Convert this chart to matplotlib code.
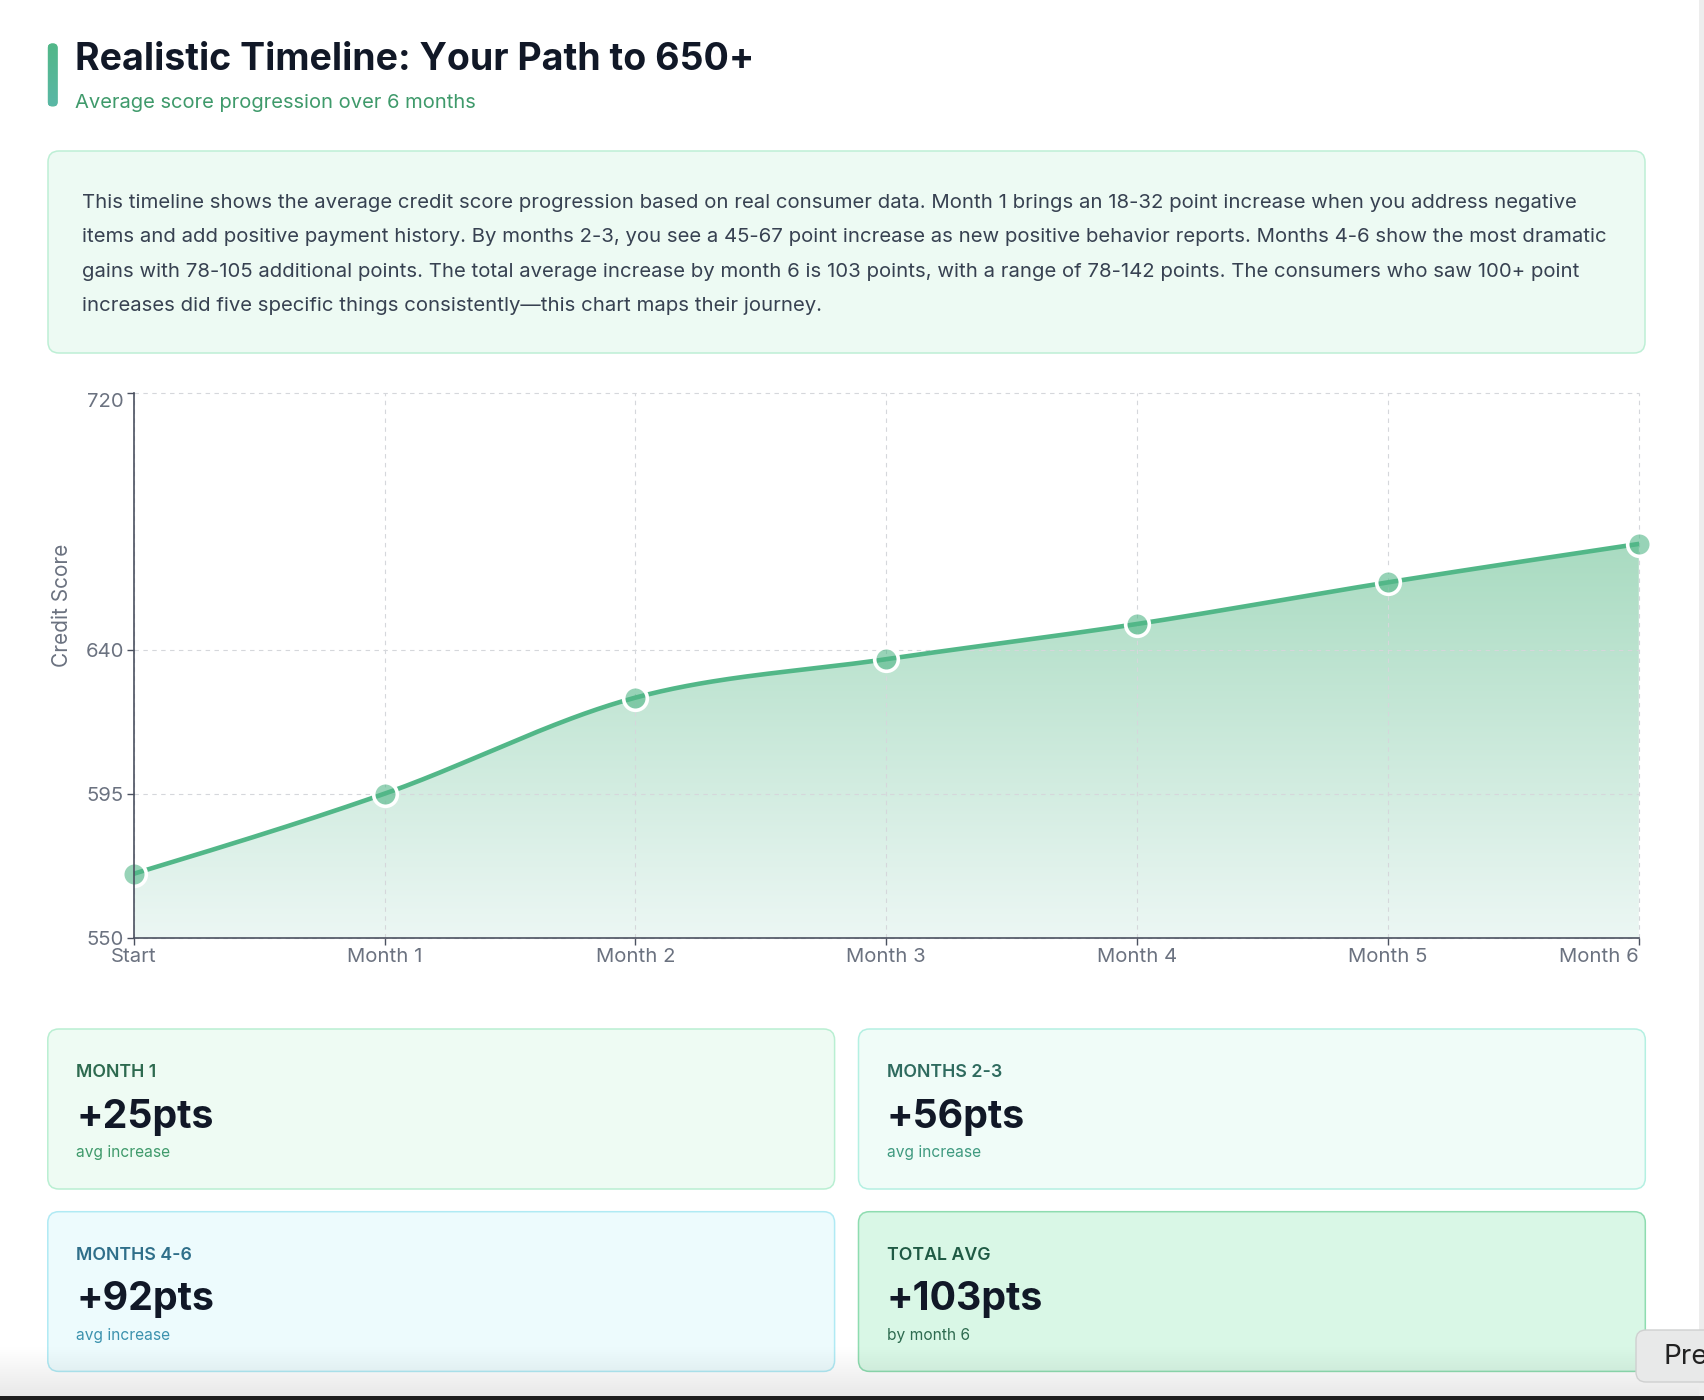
import numpy as np
import matplotlib.pyplot as plt
from matplotlib.patches import FancyBboxPatch, Polygon
from matplotlib.colors import to_rgb

plt.rcParams['font.family'] = ['Inter', 'DejaVu Sans']

# chart data
months = ['Start', 'Month 1', 'Month 2', 'Month 3', 'Month 4', 'Month 5', 'Month 6']
scores = [570, 595, 625, 637, 648, 661, 673]
y_ticks = [550, 595, 640, 720]

# summary cards
card_labels = ['MONTH 1', 'MONTHS 2-3', 'MONTHS 4-6', 'TOTAL AVG']
card_values = ['+25pts', '+56pts', '+92pts', '+103pts']
card_notes = ['avg increase', 'avg increase', 'avg increase', 'by month 6']

summary_lines = [
    "This timeline shows the average credit score progression based on real consumer data. Month 1 brings an 18-32 point increase when you address negative",
    "items and add positive payment history. By months 2-3, you see a 45-67 point increase as new positive behavior reports. Months 4-6 show the most dramatic",
    "gains with 78-105 additional points. The total average increase by month 6 is 103 points, with a range of 78-142 points. The consumers who saw 100+ point",
    "increases did five specific things consistently\u2014this chart maps their journey.",
]

GREEN = '#52b788'
INK = '#111827'
MUTED = '#6b7280'


def monotone(xs, ys, n=60):
    # same idea as d3 curveMonotoneX, evaluated as hermite pieces
    xs = np.asarray(xs, float)
    ys = np.asarray(ys, float)
    h = np.diff(xs)
    s = np.diff(ys) / h
    t = np.zeros(len(xs))
    for i in range(1, len(xs) - 1):
        s0, s1 = s[i - 1], s[i]
        p = (s0 * h[i] + s1 * h[i - 1]) / (h[i - 1] + h[i])
        t[i] = (np.sign(s0) + np.sign(s1)) * min(abs(s0), abs(s1), 0.5 * abs(p))
    t[0] = (3 * s[0] - t[1]) / 2
    t[-1] = (3 * s[-1] - t[-2]) / 2
    out_x, out_y = [], []
    for i in range(len(xs) - 1):
        u = np.linspace(0, 1, n)
        h00 = 2 * u**3 - 3 * u**2 + 1
        h10 = u**3 - 2 * u**2 + u
        h01 = -2 * u**3 + 3 * u**2
        h11 = u**3 - u**2
        out_x.append(xs[i] + u * h[i])
        out_y.append(h00 * ys[i] + h10 * h[i] * t[i] + h01 * ys[i + 1] + h11 * h[i] * t[i + 1])
    return np.concatenate(out_x), np.concatenate(out_y)


def vgrad(ax, x0, x1, ytop, ybot, c_top, c_bot, clip=None, z=1, a_top=1, a_bot=1):
    a = np.linspace(0, 1, 256)[:, None, None]
    ct = np.array(list(to_rgb(c_top)) + [a_top])
    cb = np.array(list(to_rgb(c_bot)) + [a_bot])
    img = ct * (1 - a) + cb * a
    im = ax.imshow(img, extent=[x0, x1, ybot, ytop], origin='upper',
                   aspect='auto', zorder=z, interpolation='bicubic')
    if clip is not None:
        im.set_clip_path(clip)
    return im


def rbox(ax, x0, y0, x1, y1, fc, ec, r=11, lw=1.1, z=1):
    p = FancyBboxPatch((x0, y0), x1 - x0, y1 - y0,
                       boxstyle=f'round,pad=0,rounding_size={r}',
                       fc=fc, ec=ec, lw=lw, zorder=z)
    ax.add_patch(p)
    return p


fig = plt.figure(figsize=(17.04, 14), dpi=100)
fig.patch.set_facecolor('white')

# page layer in pixel coordinates
bg = fig.add_axes([0, 0, 1, 1])
bg.axis('off')

# header
bar = rbox(bg, 47.8, 43.5, 57.6, 106.5, GREEN, 'none', r=4.5, lw=0)
vgrad(bg, 47.8, 57.6, 43.5, 106.5, '#52b788', '#5ab8a6', clip=bar, z=2)
bg.text(75, 60, 'Realistic Timeline: Your Path to 650+', fontsize=27,
        fontweight='bold', color=INK, va='center', ha='left')
bg.text(75, 103, 'Average score progression over 6 months', fontsize=14.5,
        color='#3f9a6b', va='center', ha='left')

# description box
rbox(bg, 48, 151, 1645, 353, '#edfaf3', '#bdefd5', r=11)
for i, line in enumerate(summary_lines):
    bg.text(81.5, 202.5 + i * 34.6, line, fontsize=14.65, color='#374151',
            va='center', ha='left')

bg.text(62, 605, 'Credit Score', rotation=90, fontsize=15, color=MUTED,
        va='center', ha='center')

# cards
card_boxes = [(47.8, 1029, 834.6, 1189), (858.5, 1029, 1645.3, 1189),
              (47.8, 1211.7, 834.6, 1371.4), (858.5, 1211.7, 1645.3, 1371.4)]
card_fc = ['#eefbf3', '#f0fcf8', '#edfbfd', '#d9f7e6']
card_ec = ['#b9efd2', '#b4f0e2', '#b0eaf4', '#8edcb0']
label_c = ['#2d6a4f', '#2f6b5f', '#2f6f8a', '#1f5a44']
note_c = ['#3f9a6b', '#3f9a80', '#3c92ae', '#2d6a4f']
for i, (x0, y0, x1, y1) in enumerate(card_boxes):
    rbox(bg, x0, y0, x1, y1, card_fc[i], card_ec[i], r=11)
    bg.text(x0 + 28.5, y0 + 43.5, card_labels[i], fontsize=12.8, fontweight='semibold',
            color=label_c[i], va='center', ha='left')
    bg.text(x0 + 28.5, y0 + 88, card_values[i], fontsize=28.3, fontweight='bold',
            color=INK, va='center', ha='left')
    bg.text(x0 + 28.5, y0 + 123.5, card_notes[i], fontsize=11.2,
            color=note_c[i], va='center', ha='left')

# browser bits along the bottom / right edge
vgrad(bg, 0, 1704, 1345, 1396, '#000000', '#000000', z=5, a_top=0, a_bot=0.09)
bg.add_patch(plt.Rectangle((0, 1396), 1704, 4, fc='#1f1f1f', ec='none', zorder=6))
bg.add_patch(plt.Rectangle((1699, 0), 5, 1396, fc='#ededed', ec='none', zorder=6))
rbox(bg, 1636, 1330, 1740, 1382, '#e8e9e9', '#cfd0d0', r=10, lw=1, z=7)
bg.text(1663, 1357, 'Pre', fontsize=20, color='#222222', va='center', ha='left', zorder=8)

bg.set_xlim(0, 1704)
bg.set_ylim(1400, 0)

# chart
ax = fig.add_axes([133.7 / 1704, 1 - 937.8 / 1400,
                   (1638.8 - 133.7) / 1704, (937.8 - 393.4) / 1400])
ax.set_facecolor('none')
x = np.arange(len(months))
cx, cy = monotone(x, scores)

poly = Polygon(np.column_stack([np.r_[cx, cx[-1], cx[0]], np.r_[cy, 550, 550]]),
               closed=True, fc='none', ec='none')
ax.add_patch(poly)
vgrad(ax, 0, 6, max(scores), 550, '#a9dbc1', '#ecf7f4', clip=poly, z=1)

ax.plot(cx, cy, color=GREEN, lw=3.3, zorder=4, solid_capstyle='round')
ax.scatter(x, scores, s=290, facecolor=(82 / 255, 183 / 255, 136 / 255, 0.6),
           edgecolor='white', linewidth=2.6, zorder=5, clip_on=False)

ax.set_xlim(0, 6)
ax.set_ylim(550, 720)
ax.set_xticks(x)
ax.set_xticklabels(months)
ax.set_yticks(y_ticks)

ax.grid(True, color='#d5d7db', lw=0.8, linestyle=(0, (4, 4)), zorder=3)
ax.set_axisbelow(False)
for gl in ax.get_xgridlines() + ax.get_ygridlines():
    gl.set_clip_on(False)
    gl.set_zorder(2)

for side in ['top', 'right']:
    ax.spines[side].set_visible(False)
for side in ['left', 'bottom']:
    ax.spines[side].set_color('#4b5160')
    ax.spines[side].set_linewidth(1.2)
    ax.spines[side].set_zorder(6)

ax.tick_params(axis='both', length=5, width=1, color='#4b5160',
               labelcolor=MUTED, labelsize=14.6, pad=2)
ax.get_xticklabels()[-1].set_horizontalalignment('right')
ax.get_yticklabels()[-1].set_verticalalignment('top')

fig.savefig('out.png', dpi=100, facecolor='white')
